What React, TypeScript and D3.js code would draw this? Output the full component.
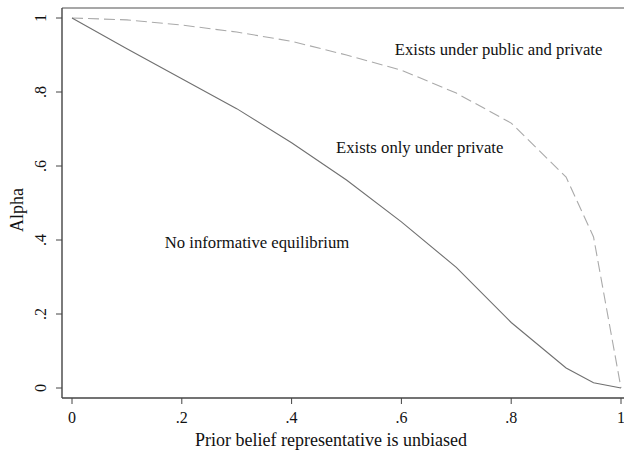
import React from "react";
import * as d3 from "d3";

const priorBelief = [0, 0.1, 0.2, 0.3, 0.4, 0.5, 0.6, 0.7, 0.8, 0.9, 0.95, 1];
const alphaPrivate = [1, 0.917, 0.836, 0.755, 0.663, 0.562, 0.449, 0.326, 0.177, 0.054, 0.014, 0];
const alphaPublic = [1, 0.995, 0.981, 0.962, 0.937, 0.9, 0.859, 0.797, 0.716, 0.57, 0.408, 0];
const xTicks = [0, 0.2, 0.4, 0.6, 0.8, 1];
const yTicks = [0, 0.2, 0.4, 0.6, 0.8, 1];
const tickLabel = (v: number) => (v === 0 ? "0" : v === 1 ? "1" : d3.format(".1f")(v).replace(/^0/, ""));

const annotations = [
  { text: "Exists under public and private", x: 0.588, y: 0.9 },
  { text: "Exists only under private", x: 0.481, y: 0.635 },
  { text: "No informative equilibrium", x: 0.169, y: 0.379 },
];

const W = 624;
const H = 454;
const FONT = "'Liberation Serif', 'Times New Roman', serif";

export default function App() {
  const x = d3.scaleLinear().domain([0, 1]).range([72, 621]);
  const y = d3.scaleLinear().domain([0, 1]).range([388, 18]);
  const frame = { left: 62, top: 8, bottom: 398, right: 640 };

  const pts = priorBelief.map((p, i) => ({ p, a: alphaPrivate[i], b: alphaPublic[i] }));
  const lineA = d3.line<any>().x((d) => x(d.p)).y((d) => y(d.a));
  const lineB = d3.line<any>().x((d) => x(d.p)).y((d) => y(d.b));

  return (
    <div style={{ position: "fixed", left: 0, top: 0 }}>
      <svg width={W} height={H} style={{ display: "block", background: "#fff" }} fontFamily={FONT}>
        <rect x={0} y={0} width={W} height={H} fill="#fff" />
        <line x1={frame.left} x2={frame.right} y1={frame.top} y2={frame.top} stroke="#8a8a8a" strokeWidth={1.6} />
        <line x1={frame.left} x2={frame.left} y1={frame.top} y2={frame.bottom} stroke="#444" strokeWidth={1.4} />
        <line x1={frame.left} x2={frame.right} y1={frame.bottom} y2={frame.bottom} stroke="#444" strokeWidth={1.4} />

        {yTicks.map((t) => (
          <g key={"y" + t}>
            <line x1={frame.left - 6} x2={frame.left} y1={y(t)} y2={y(t)} stroke="#444" strokeWidth={1} />
            <text
              transform={`translate(${frame.left - 16},${y(t)}) rotate(-90)`}
              textAnchor="middle"
              fontSize={16}
              fill="#111"
            >
              {tickLabel(t)}
            </text>
          </g>
        ))}
        {xTicks.map((t) => (
          <g key={"x" + t}>
            <line x1={x(t)} x2={x(t)} y1={frame.bottom} y2={frame.bottom + 6} stroke="#444" strokeWidth={1} />
            <text x={x(t)} y={frame.bottom + 25} textAnchor="middle" fontSize={16} fill="#111">
              {tickLabel(t)}
            </text>
          </g>
        ))}

        <path d={lineB(pts) || ""} fill="none" stroke="#aaaaaa" strokeWidth={1.1} strokeDasharray="11,5" />
        <path d={lineA(pts) || ""} fill="none" stroke="#707070" strokeWidth={1.1} />

        {annotations.map((a) => (
          <text key={a.text} x={x(a.x)} y={y(a.y)} fontSize={16.7} fill="#111">
            {a.text}
          </text>
        ))}

        <text x={331} y={446} textAnchor="middle" fontSize={18} fill="#111">
          Prior belief representative is unbiased
        </text>
        <text transform={`translate(23,210) rotate(-90)`} textAnchor="middle" fontSize={18} fill="#111">
          Alpha
        </text>
      </svg>
    </div>
  );
}
